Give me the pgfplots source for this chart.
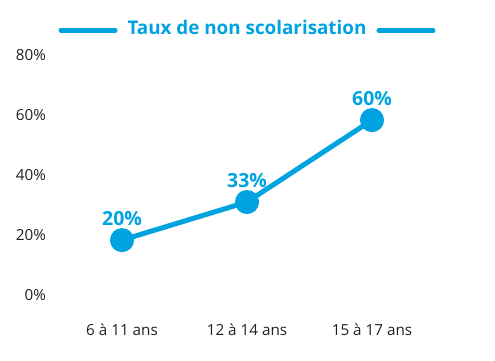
\documentclass[border=0pt]{standalone}
\usepackage{pgfplots}
\pgfplotsset{compat=1.18}
\usepackage{fontspec}
\setmainfont{Open Sans}
\definecolor{cblue}{RGB}{0,163,224}
\definecolor{ctxt}{RGB}{35,31,32}
\begin{document}
\begin{tikzpicture}[x=1bp,y=1bp]
\path (0,0) rectangle (495,360);
\begin{axis}[
  at={(59.5bp,65bp)}, anchor=south west,
  scale only axis, width=375bp, height=240bp,
  xmin=-0.5, xmax=2.5, ymin=0, ymax=80,
  axis line style={draw=none}, tick style={draw=none},
  major tick length=0pt,
  xtick={0,1,2},
  xticklabels={6 à 11 ans, 12 à 14 ans, 15 à 17 ans},
  ytick={0,20,40,60,80},
  yticklabel={\pgfmathprintnumber{\tick}\%},
  /pgf/number format/assume math mode=true,
  tick label style={font=\fontsize{15.3}{18}\selectfont, text=ctxt},
  xticklabel style={anchor=base, yshift=-40bp},
  yticklabel style={anchor=east, inner sep=0pt, xshift=-13.5bp},
  clip=false,
  title style={at={(0.5,1)}, anchor=center, yshift=22bp, inner sep=0pt},
  title={\tikz[baseline={(0,-0.36em)}]\draw[cblue,line width=5bp,line cap=round](0,0)--(54bp,0);\hspace{10bp}{\color{cblue}\fontsize{18.9}{20}\bfseries\selectfont Taux de non scolarisation}\hspace{10bp}\tikz[baseline={(0,-0.36em)}]\draw[cblue,line width=5bp,line cap=round](0,0)--(54bp,0);},
]
\addplot[cblue, line width=5bp, mark=*, mark size=9.5bp, mark options={solid},
  point meta=explicit symbolic, nodes near coords,
  every node near coord/.append style={anchor=base, yshift=15bp, inner sep=0pt,
    font=\fontsize{19.5}{20}\bfseries\selectfont, text=cblue}]
coordinates {(0,18.3) [20\%] (1,31) [33\%] (2,58.3) [60\%]};
\end{axis}
\end{tikzpicture}
\end{document}
